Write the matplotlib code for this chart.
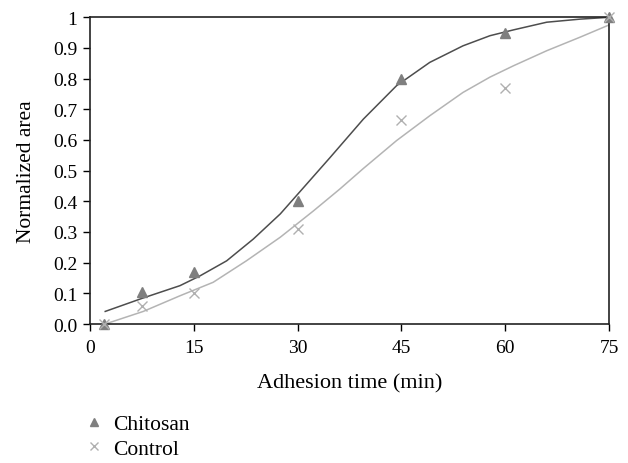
import matplotlib
matplotlib.use("Agg")
import matplotlib.pyplot as plt
from matplotlib.ticker import FuncFormatter

# measured points
time_min = [2, 7.5, 15, 30, 45, 60, 75]
chitosan = [0.0, 0.105, 0.17, 0.40, 0.80, 0.95, 1.0]
control = [0.0, 0.058, 0.10, 0.31, 0.665, 0.77, 1.0]

# fitted curves
chitosan_fit_x = [2.2, 7.7, 13.0, 15.9, 19.75, 23.6, 27.5, 31.3, 34.7, 39.5, 44.3,
                  49.1, 53.9, 57.8, 61.2, 66.0, 70.8, 75]
chitosan_fit_y = [0.041, 0.085, 0.125, 0.157, 0.206, 0.277, 0.359, 0.456, 0.543, 0.668,
                  0.777, 0.853, 0.907, 0.94, 0.959, 0.984, 0.994, 1.0]
control_fit_x = [2.2, 7.7, 13.0, 17.8, 22.6, 27.5, 32.3, 36.1, 39.5, 44.3, 49.1,
                 53.9, 57.8, 61.2, 66.0, 70.8, 75]
control_fit_y = [0.0, 0.041, 0.092, 0.136, 0.206, 0.283, 0.369, 0.44, 0.507, 0.598,
                 0.679, 0.755, 0.805, 0.842, 0.891, 0.935, 0.975]

x_ticks = [0, 15, 30, 45, 60, 75]
y_ticks = [0.0, 0.1, 0.2, 0.3, 0.4, 0.5, 0.6, 0.7, 0.8, 0.9, 1.0]

plt.rcParams["font.family"] = ["Liberation Serif", "DejaVu Serif"]
plt.rcParams["font.size"] = 14

fig = plt.figure(figsize=(6.28, 4.64), dpi=100)
ax = fig.add_axes([90 / 628, 1 - 325 / 464, 519 / 628, 306.7 / 464])

ax.plot(chitosan_fit_x, chitosan_fit_y, color="#4d4d4d", lw=1.1, zorder=2)
ax.plot(control_fit_x, control_fit_y, color="#b4b4b4", lw=1.1, zorder=2)
ax.plot(time_min, chitosan, ls="none", marker="^", ms=7, color="#7f7f7f",
        mec="#7f7f7f", label="Chitosan", zorder=3, clip_on=False)
ax.plot(time_min, control, ls="none", marker="x", ms=7, mew=1.0, color="#b0b0b0",
        label="Control", zorder=3, clip_on=False)

ax.set_xlim(0, 75)
ax.set_ylim(0, 1)
ax.set_xticks(x_ticks)
ax.set_yticks(y_ticks)
ax.yaxis.set_major_formatter(FuncFormatter(lambda v, p: "1" if v == 1 else f"{v:.1f}"))
ax.tick_params(direction="out", length=5, width=1, color="black")
ax.tick_params(axis="x", pad=6)
ax.tick_params(axis="y", pad=4)
for s in ax.spines.values():
    s.set_linewidth(1.2)
    s.set_color("#222222")

ax.set_xlabel("Adhesion time (min)", fontsize=16, labelpad=12)
ax.set_ylabel("Normalized area", fontsize=15.5, labelpad=12)

fig.legend(loc="upper left", bbox_to_anchor=(83 / 628, 1 - 415 / 464), frameon=False,
           fontsize=15.5, handlelength=1.0, handletextpad=0.4, labelspacing=0.22,
           markerscale=0.9, borderpad=0, borderaxespad=0)

fig.savefig("out.png", dpi=100)
